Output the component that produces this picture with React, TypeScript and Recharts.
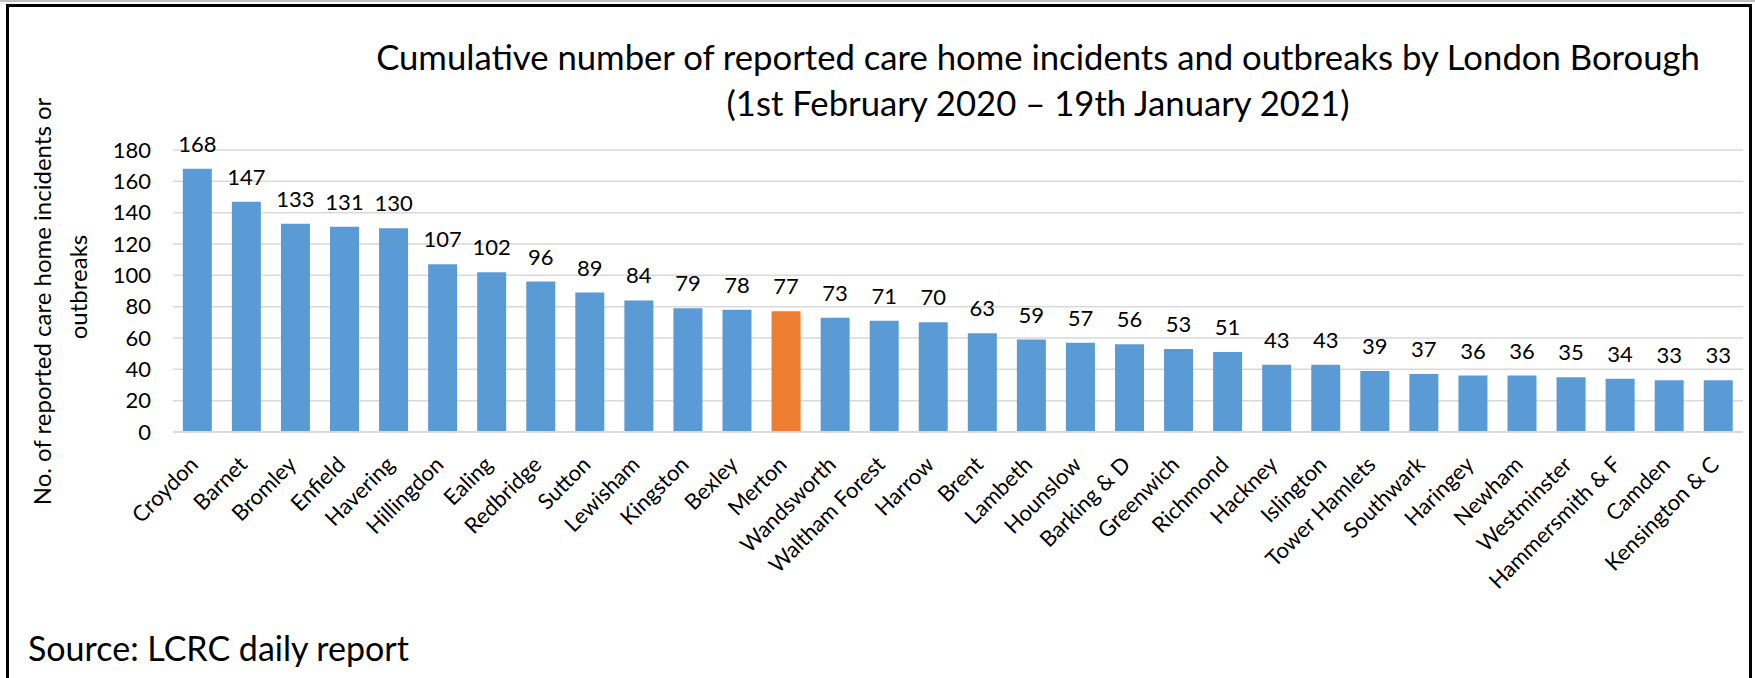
// App.tsx
import React from 'react';
import { BarChart, Bar, XAxis, YAxis, CartesianGrid, LabelList, Cell } from 'recharts';

const boroughs = [
  'Croydon', 'Barnet', 'Bromley', 'Enfield', 'Havering', 'Hillingdon', 'Ealing', 'Redbridge',
  'Sutton', 'Lewisham', 'Kingston', 'Bexley', 'Merton', 'Wandsworth', 'Waltham Forest', 'Harrow',
  'Brent', 'Lambeth', 'Hounslow', 'Barking & D', 'Greenwich', 'Richmond', 'Hackney', 'Islington',
  'Tower Hamlets', 'Southwark', 'Haringey', 'Newham', 'Westminster', 'Hammersmith & F', 'Camden',
  'Kensington & C',
];

const incidents = [
  168, 147, 133, 131, 130, 107, 102, 96, 89, 84, 79, 78, 77, 73, 71, 70,
  63, 59, 57, 56, 53, 51, 43, 43, 39, 37, 36, 36, 35, 34, 33, 33,
];

const yTicks = [0, 20, 40, 60, 80, 100, 120, 140, 160, 180];
const highlighted = 'Merton';

const data = boroughs.map((name, i) => ({ name, value: incidents[i] }));

const FONT = 'Lato, "Noto Sans", sans-serif';
const BLUE = '#5B9BD5';
const ORANGE = '#ED7D31';

const BoroughTick = (props: any) => {
  const { x, y, payload } = props;
  return (
    <text
      transform={`translate(${x + 2},${y + 34}) rotate(-45)`}
      textAnchor="end"
      fontSize={22}
      fontFamily={FONT}
      fill="#000"
    >
      {payload.value}
    </text>
  );
};

const App: React.FC = () => {
  return (
    <div style={{ position: 'absolute', left: 0, top: 0, width: 1755, height: 678, background: '#fff', overflow: 'hidden' }}>
      <BarChart
        width={1755}
        height={678}
        data={data}
        margin={{ top: 150, right: 12, left: 113, bottom: 106 }}
        barCategoryGap="20%"
      >
        <CartesianGrid vertical={false} stroke="#D9D9D9" strokeWidth={1.5} />
        <XAxis
          dataKey="name"
          interval={0}
          height={140}
          tickLine={false}
          tickSize={0}
          tickMargin={0}
          axisLine={{ stroke: '#D9D9D9', strokeWidth: 2 }}
          tick={<BoroughTick />}
        />
        <YAxis
          width={60}
          domain={[0, 180]}
          ticks={yTicks}
          axisLine={false}
          tickLine={false}
          tickSize={0}
          tickMargin={22}
          tick={{ fontSize: 22, fontFamily: FONT, fill: '#000' }}
        />
        <Bar dataKey="value" isAnimationActive={false}>
          {data.map((d) => (
            <Cell key={d.name} fill={d.name === highlighted ? ORANGE : BLUE} />
          ))}
          <LabelList dataKey="value" position="top" offset={17} fontSize={22} fontFamily={FONT} fill="#000" />
        </Bar>
      </BarChart>

      {/* frame, titles and source note */}
      <svg width={1755} height={678} style={{ position: 'absolute', left: 0, top: 0, pointerEvents: 'none' }}>
        <line x1={0} y1={1} x2={1755} y2={1} stroke="#BFBFBF" strokeWidth={2} />
        <rect x={7.5} y={5.5} width={1743} height={700} fill="none" stroke="#000" strokeWidth={3} />
        <g fontFamily={FONT} fill="#000">
          <text x={1038} y={70} textAnchor="middle" fontSize={34.7}>
            Cumulative number of reported care home incidents and outbreaks by London Borough
          </text>
          <text x={1038} y={116} textAnchor="middle" fontSize={34.7}>
            (1st February 2020 – 19th January 2021)
          </text>
          <text transform="translate(51,301.5) rotate(-90)" textAnchor="middle" fontSize={24}>
            No. of reported care home incidents or
          </text>
          <text transform="translate(87,287) rotate(-90)" textAnchor="middle" fontSize={24}>
            outbreaks
          </text>
          <text x={28} y={661} fontSize={34}>
            Source: LCRC daily report
          </text>
        </g>
      </svg>
    </div>
  );
};

export default App;
